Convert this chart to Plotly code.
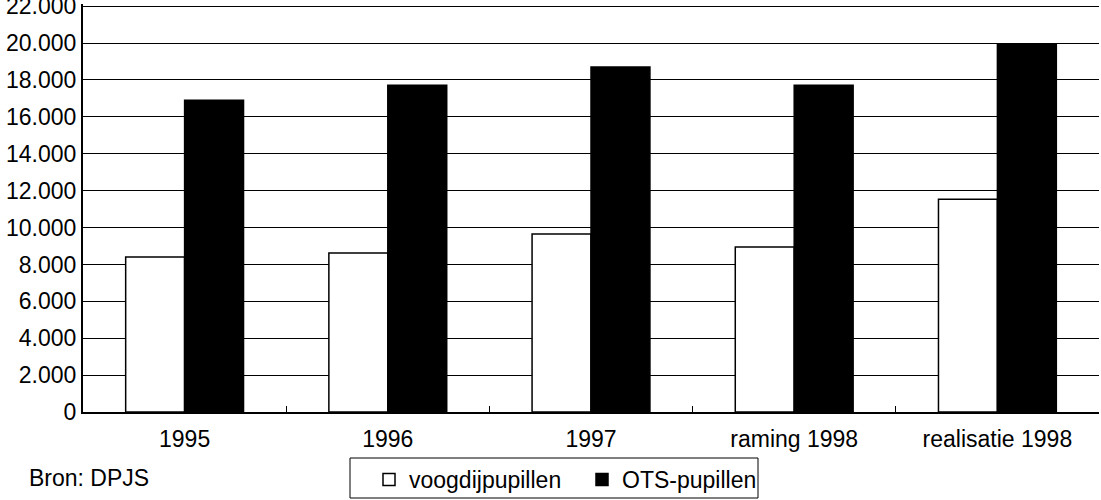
import plotly.graph_objects as go

categories = ["1995", "1996", "1997", "raming 1998", "realisatie 1998"]
voogdij = [8400, 8620, 9650, 8940, 11540]
ots = [16900, 17720, 18700, 17720, 19950]
y_ticks = list(range(0, 22001, 2000))
y_max = 22120

FONT = "Liberation Sans"
FS = 23
L, R, T, B = 83, 2, 4, 88
W, H = 1101, 500
ph = H - T - B
pw = W - L - R


def px_x(px):
    return (px - L) / pw


def px_y(py):
    return (H - B - py) / ph


fig = go.Figure()
fig.add_trace(go.Bar(x=categories, y=voogdij, name="voogdijpupillen",
                     marker=dict(color="white", line=dict(color="black", width=1.5))))
fig.add_trace(go.Bar(x=categories, y=ots, name="OTS-pupillen",
                     marker=dict(color="black", line=dict(color="black", width=1.5))))

fig.update_layout(
    width=W, height=H,
    margin=dict(l=L, r=R, t=T, b=B, autoexpand=False),
    paper_bgcolor="white", plot_bgcolor="white",
    barmode="group", bargap=0.42, bargroupgap=0,
    separators=",.",
    font=dict(family=FONT, size=FS, color="black"),
    showlegend=True,
    legend=dict(orientation="h", x=px_x(369), xanchor="left",
                y=px_y(458), yanchor="top",
                borderwidth=0, bgcolor="rgba(0,0,0,0)",
                font=dict(family=FONT, size=FS, color="black"),
                itemwidth=30, tracegroupgap=0, entrywidth=168,
                entrywidthmode="pixels"),
    shapes=[dict(type="rect", xref="paper", yref="paper",
                 x0=px_x(350), x1=px_x(758), y0=px_y(458), y1=px_y(498),
                 line=dict(color="black", width=1), fillcolor="rgba(0,0,0,0)",
                 layer="below")],
    annotations=[dict(text="Bron: DPJS", xref="paper", yref="paper",
                      x=px_x(27), y=px_y(478),
                      xanchor="left", yanchor="middle", showarrow=False,
                      font=dict(family=FONT, size=FS, color="black"))],
)
fig.update_xaxes(showline=True, linecolor="black", linewidth=2,
                 ticks="inside", tickson="boundaries", ticklen=6,
                 tickcolor="black", tickwidth=1, showgrid=False,
                 automargin=False, ticklabelstandoff=5,
                 tickfont=dict(family=FONT, size=FS))
fig.update_yaxes(range=[0, y_max], tickvals=y_ticks, tickformat=",d",
                 showline=True, linecolor="black", linewidth=2,
                 showgrid=True, gridcolor="black", gridwidth=1,
                 ticks="", zeroline=False, automargin=False,
                 ticklabeloverflow="allow",
                 tickfont=dict(family=FONT, size=FS))

fig.write_html("out.html", config={"displayModeBar": False},
               post_script="document.body.style.margin='0';document.body.style.overflow='hidden';")
